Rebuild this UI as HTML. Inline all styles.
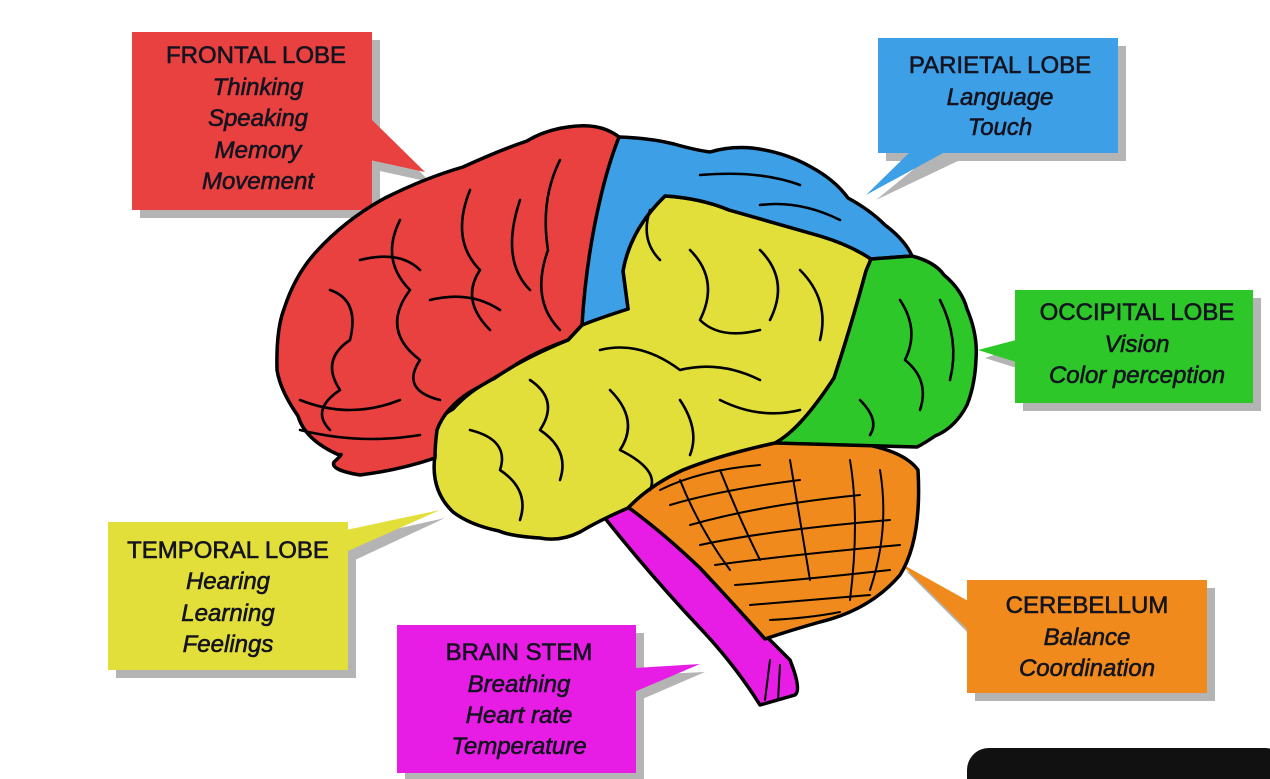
<!DOCTYPE html>
<html><head><meta charset="utf-8"><style>
html,body{margin:0;padding:0;background:#fff;}
svg{display:block;}
text{font-family:"Liberation Sans",Arial,sans-serif;fill:#141420;stroke:#141420;stroke-width:0.6;}
.t{font-size:24px;}
.i{font-size:24px;font-style:italic;}
</style></head><body>
<svg width="1270" height="779" viewBox="0 0 1270 779" xmlns="http://www.w3.org/2000/svg">
<g fill="#b4b4b4">
<rect x="140" y="40" width="240" height="178"/><polygon points="375,125 375,170 430,182"/>
<rect x="886" y="46" width="240" height="115"/><polygon points="925,160 960,160 876,200"/>
<rect x="1023" y="298" width="238" height="113"/><polygon points="1023,345 1023,370 985,358"/>
<rect x="116" y="530" width="240" height="148"/><polygon points="355,538 355,560 445,518"/>
<rect x="405" y="633" width="239" height="148"/><polygon points="640,675 640,700 705,672"/>
<rect x="975" y="588" width="240" height="113"/><polygon points="975,610 975,640 905,570"/>
</g>
<polygon points="370,118 370,160 425,172" fill="#e8413f"/>
<rect x="132" y="32" width="240" height="178" fill="#e8413f"/>
<polygon points="910,152 945,152 866,195" fill="#3d9fe6"/>
<rect x="878" y="38" width="240" height="115" fill="#3d9fe6"/>
<polygon points="1016,340 1016,362 978,350" fill="#2ec72a"/>
<rect x="1015" y="290" width="238" height="113" fill="#2ec72a"/>
<polygon points="346,530 346,552 440,510" fill="#e3df3a"/>
<rect x="108" y="522" width="240" height="148" fill="#e3df3a"/>
<polygon points="634,668 634,692 700,664" fill="#e81de5"/>
<rect x="397" y="625" width="239" height="148" fill="#e81de5"/>
<polygon points="970,602 970,632 900,563" fill="#f08a1c"/>
<rect x="967" y="580" width="240" height="113" fill="#f08a1c"/>
<rect x="967" y="748" width="320" height="60" rx="22" fill="#111"/>
<g text-anchor="middle">
<text class="t" x="256" y="63">FRONTAL LOBE</text>
<text class="i" x="258" y="95">Thinking</text>
<text class="i" x="258" y="126">Speaking</text>
<text class="i" x="258" y="158">Memory</text>
<text class="i" x="258" y="189">Movement</text>
<text class="t" x="1000" y="73">PARIETAL LOBE</text>
<text class="i" x="1000" y="105">Language</text>
<text class="i" x="1000" y="135">Touch</text>
<text class="t" x="1137" y="320">OCCIPITAL LOBE</text>
<text class="i" x="1137" y="352">Vision</text>
<text class="i" x="1137" y="383">Color perception</text>
<text class="t" x="228" y="558">TEMPORAL LOBE</text>
<text class="i" x="228" y="589">Hearing</text>
<text class="i" x="228" y="621">Learning</text>
<text class="i" x="228" y="652">Feelings</text>
<text class="t" x="519" y="660">BRAIN STEM</text>
<text class="i" x="519" y="692">Breathing</text>
<text class="i" x="519" y="723">Heart rate</text>
<text class="i" x="519" y="754">Temperature</text>
<text class="t" x="1087" y="613">CEREBELLUM</text>
<text class="i" x="1087" y="645">Balance</text>
<text class="i" x="1087" y="676">Coordination</text>
</g>
<g stroke="#000" stroke-width="3.5" stroke-linejoin="round" fill="none">
<path d="M600,512 L645,495 Q690,555 740,610 Q775,645 790,660 Q802,690 795,695 L760,705 Q735,665 700,628 Q650,575 600,512Z" fill="#e81de5"/>
<path d="M625,505 Q650,470 700,458 Q760,440 830,440 Q900,445 918,470 Q922,540 900,575 Q870,610 820,622 Q785,632 765,639 Q730,600 700,568 Q660,530 625,505Z" fill="#f08a1c"/>
<path d="M435,455 Q430,420 453,409 Q470,390 495,378 Q520,360 568,340 L582,325 Q620,310 628,309 L623,271 Q630,230 665,196 Q700,198 729,210 L820,236 Q850,245 871,259 L866,271 Q850,330 834,378 Q800,430 775,443 Q720,455 683,470 Q650,485 628,508 Q600,520 580,532 Q560,542 540,538 Q510,536 499,531 Q470,525 453,512 Q430,490 435,455Z" fill="#e3df3a"/>
<path d="M568,127 Q600,122 619,137 Q600,200 590,260 Q585,300 582,325 L568,340 Q540,350 520,362 Q495,378 470,392 Q445,408 437,430 Q435,445 435,458 Q400,470 360,475 Q330,470 334,462 Q345,452 339,455 Q305,440 298,416 Q280,390 277,370 Q276,330 284,309 Q295,275 316,252 Q345,220 385,198 Q425,178 463,167 Q500,150 527,141 Q545,130 568,127Z" fill="#e8413f"/>
<path d="M619,137 Q650,138 674,144 Q695,150 710,152 Q730,146 752,148 Q785,152 811,167 Q835,180 848,198 Q870,210 885,225 Q905,240 912,256 L871,259 Q850,245 820,236 L729,210 Q700,198 665,196 Q630,230 623,271 L628,309 Q600,318 582,325 Q586,260 600,200 Q608,165 619,137Z" fill="#3d9fe6"/>
<path d="M912,256 Q935,262 944,275 Q962,290 967,309 Q978,335 976,359 Q975,385 967,405 Q955,428 935,436 Q925,443 917,447 L775,443 Q800,430 834,378 Q850,330 866,271 L871,259Z" fill="#2ec72a"/>
<g stroke-width="2.6" stroke-linecap="round">
<path d="M560,160 Q540,200 548,250 Q530,300 560,330"/>
<path d="M470,190 Q450,240 480,270 Q460,300 490,330"/>
<path d="M400,220 Q380,260 410,290 Q380,330 420,360 Q400,390 440,400"/>
<path d="M330,290 Q360,300 350,340 Q320,360 340,390 Q310,410 330,430"/>
<path d="M300,400 Q350,420 400,400"/>
<path d="M300,430 Q360,445 420,435"/>
<path d="M520,200 Q500,260 530,290"/>
<path d="M430,300 Q470,290 500,310"/>
<path d="M360,260 Q400,250 420,270"/>
<path d="M650,210 Q640,240 660,260"/>
<path d="M700,175 Q760,170 800,185"/>
<path d="M760,205 Q800,200 840,220"/>
<path d="M690,250 Q720,280 700,320 Q720,340 760,330"/>
<path d="M760,250 Q790,280 770,320"/>
<path d="M800,270 Q830,300 820,340"/>
<path d="M600,350 Q640,340 680,370 Q720,360 760,380"/>
<path d="M530,380 Q560,400 540,430 Q570,450 560,480"/>
<path d="M470,430 Q510,440 500,470 Q530,490 520,520"/>
<path d="M610,390 Q640,420 620,450 Q660,470 650,490"/>
<path d="M680,400 Q700,430 690,455"/>
<path d="M720,400 Q760,420 800,410"/>
<path d="M900,300 Q920,330 905,360 Q930,380 920,410"/>
<path d="M940,300 Q960,340 950,380"/>
<path d="M860,400 Q880,420 870,435"/>
</g>
<g stroke-width="2" stroke-linecap="round">
<path d="M660,490 Q700,470 760,465"/><path d="M670,505 Q720,490 800,480"/>
<path d="M690,525 Q760,505 860,495"/><path d="M700,545 Q770,530 890,520"/>
<path d="M715,565 Q790,555 900,545"/><path d="M735,585 Q800,580 890,570"/>
<path d="M750,605 Q810,600 870,595"/><path d="M770,620 Q810,618 840,612"/>
<path d="M720,470 Q740,520 760,560"/><path d="M790,460 Q800,520 810,580"/>
<path d="M850,460 Q860,520 850,600"/>
<path d="M680,480 Q700,530 730,570"/><path d="M880,470 Q890,530 870,590"/>
<path d="M770,660 L765,700"/><path d="M780,665 L778,700"/>
</g>
</g>
</svg>
</body></html>
